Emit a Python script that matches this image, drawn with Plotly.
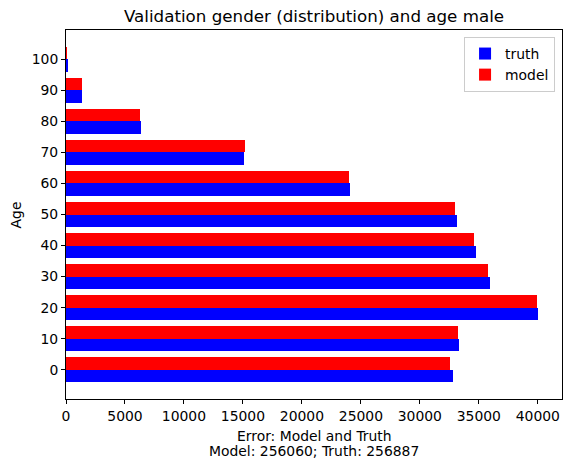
import plotly.graph_objects as go

# age buckets and counts
ages = [0, 10, 20, 30, 40, 50, 60, 70, 80, 90, 100]
truth = [32800, 33300, 40000, 35930, 34750, 33140, 24070, 15085, 6356, 1356, 100]
model = [32550, 33230, 39920, 35770, 34580, 32970, 23950, 15170, 6280, 1380, 40]

title = "Validation gender (distribution) and age male"
x_label_1 = "Error: Model and Truth"
x_label_2 = "Model: 256060; Truth: 256887"
y_label = "Age"
x_ticks = [0, 5000, 10000, 15000, 20000, 25000, 30000, 35000, 40000]
y_ticks = [0, 10, 20, 30, 40, 50, 60, 70, 80, 90, 100]

font = "DejaVu Sans"

fig = go.Figure()
fig.add_trace(go.Bar(y=ages, x=truth, orientation="h", name="truth",
                     marker=dict(color="blue", line=dict(width=0)),
                     width=4, offset=-4))
fig.add_trace(go.Bar(y=ages, x=model, orientation="h", name="model",
                     marker=dict(color="red", line=dict(width=0)),
                     width=4, offset=0))

axis_style = dict(showline=True, linecolor="black", linewidth=1, mirror=True,
                  showgrid=False, zeroline=False, ticks="outside", ticklen=4,
                  tickcolor="black", tickfont=dict(size=13.9, color="black"),
                  automargin=False)

# axis titles as annotations so they sit where matplotlib put them
fig.add_annotation(text=x_label_1, xref="paper", yref="paper", x=0.5, y=-0.1,
                   showarrow=False, font=dict(size=13.9),
                   xanchor="center", yanchor="middle")
fig.add_annotation(text=x_label_2, xref="paper", yref="paper", x=0.5, y=-0.14,
                   showarrow=False, font=dict(size=13.9),
                   xanchor="center", yanchor="middle")
fig.add_annotation(text=y_label, xref="paper", yref="paper", x=-0.101, y=0.5,
                   showarrow=False, font=dict(size=13.9), textangle=-90,
                   xanchor="center", yanchor="middle")

fig.update_layout(
    width=571, height=469,
    margin=dict(l=66, r=9, t=30, b=70),
    paper_bgcolor="white", plot_bgcolor="white",
    font=dict(family=font, color="black"),
    barmode="overlay",
    bargap=0,
    title=dict(text=title, x=0.55, xanchor="center", y=0.966, yanchor="middle",
               font=dict(size=16.7, color="black")),
    legend=dict(x=0.986, y=0.981, xanchor="right", yanchor="top",
                bordercolor="#cccccc", borderwidth=1, bgcolor="white",
                font=dict(size=13.9), itemwidth=30),
    xaxis=dict(range=[0, 42050], tickvals=x_ticks,
               ticktext=[str(v) for v in x_ticks], **axis_style),
    yaxis=dict(range=[-9.4, 109.4], tickvals=y_ticks,
               ticktext=[str(v) for v in y_ticks], **axis_style),
)

# drop the browser's default body margin so the figure fills the window
fig.write_html("out.html", config={"displayModeBar": False},
               post_script="document.body.style.margin='0';")
